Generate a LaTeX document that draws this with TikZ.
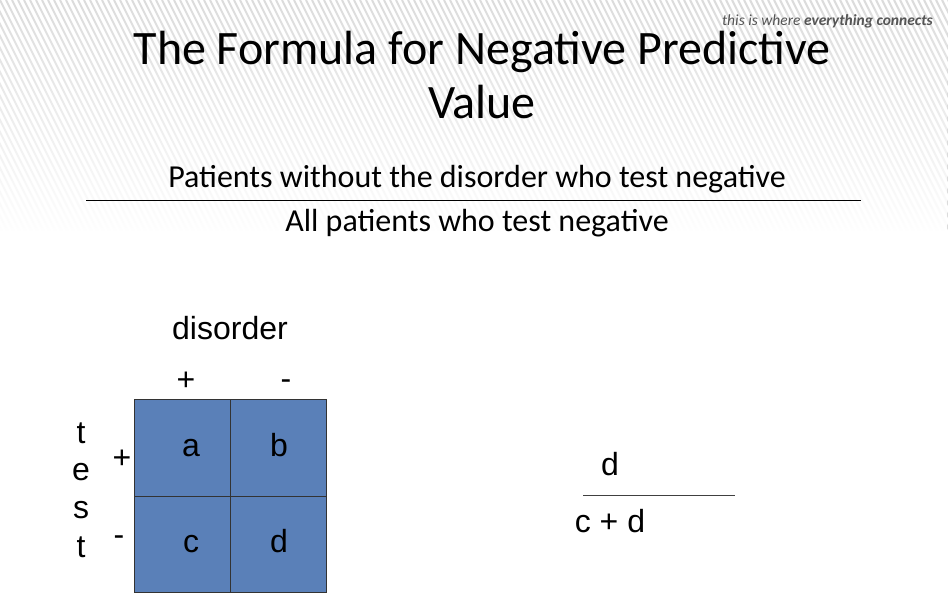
\documentclass[tikz,border=0pt]{standalone}
\usepackage{fontspec}
\setmainfont{Carlito}
\newfontfamily\arial{Liberation Sans}
\usetikzlibrary{fadings}
\definecolor{cellblue}{HTML}{5A80B8}
\definecolor{tagrey}{HTML}{555555}
\tikzset{
  cell/.style={draw=black!80, fill=cellblue, line width=0.8pt},
  title/.style={font=\fontsize{48}{56}\selectfont, anchor=base, inner sep=0},
  sub/.style={font=\fontsize{32}{36}\selectfont, anchor=base, inner sep=0},
  lab/.style={font=\arial\fontsize{32}{36}\selectfont, anchor=base, inner sep=0},
  rule/.style={line width=0.8pt, draw=black},
}
\begin{document}
\begin{tikzpicture}[x=1pt,y=-1pt]
\useasboundingbox (0,0) rectangle (948,608);
\fill[white] (0,0) rectangle (948,608);
% striped background at top
\begin{scope}
\clip (0,0) rectangle (948,230);
\foreach \i in {-300,-294,...,1000}{
  \draw[black!20, line width=2pt] (\i,0) -- (\i+120,240);
}
\end{scope}
\fill[white, path fading=north] (0,-5) rectangle (948,232);
\fill[white, opacity=0.3] (0,0) rectangle (948,230);
% tagline
\node[anchor=base east, inner sep=0, text=tagrey, font=\itshape\fontsize{15.5}{17}\selectfont] (tag) at (933,25) {this is where \textbf{everything connects}};
% title
\node[title] (t1) at (482,64) {The Formula for Negative Predictive};
\node[title] (t2) at (482,118) {Value};
% word fraction
\node[sub] (num) at (477,187) {Patients without the disorder who test negative};
\coordinate (fl) at (86,200);
\coordinate (fr) at (861,200);
\draw[rule] (fl) -- (fr);
\node[sub] (den) at (477,231) {All patients who test negative};
% table
\node[cell, minimum width=96pt, minimum height=97pt, inner sep=0] (a) at (182,447.5) {};
\node[cell, minimum width=96pt, minimum height=97pt, inner sep=0] (b) at (278,447.5) {};
\node[cell, minimum width=96pt, minimum height=96pt, inner sep=0] (c) at (182,544) {};
\node[cell, minimum width=96pt, minimum height=96pt, inner sep=0] (d) at (278,544) {};
\node[lab] (la) at (191,456) {a};
\node[lab] (lb) at (279,456) {b};
\node[lab] (lc) at (191,552) {c};
\node[lab] (ld) at (279,552) {d};
\node[lab] (dis) at (230,339) {disorder};
\node[lab] (cp) at (186,390) {+};
\node[lab] (cm) at (286,389) {-};
\node[lab] (rp) at (122,468) {+};
\node[lab] (rm) at (119,545) {-};
\node[lab] (t1l) at (81,443) {t};
\node[lab] (el) at (81,480) {e};
\node[lab] (sl) at (81,518) {s};
\node[lab] (t2l) at (81,557) {t};
% right fraction
\node[lab] (fd) at (610,475) {d};
\coordinate (gl) at (583,495);
\coordinate (gr) at (735,495);
\draw[line width=0.8pt, black!75] (gl) -- (gr);
\node[lab] (fcd) at (610,532) {c + d};
\end{tikzpicture}
\end{document}
